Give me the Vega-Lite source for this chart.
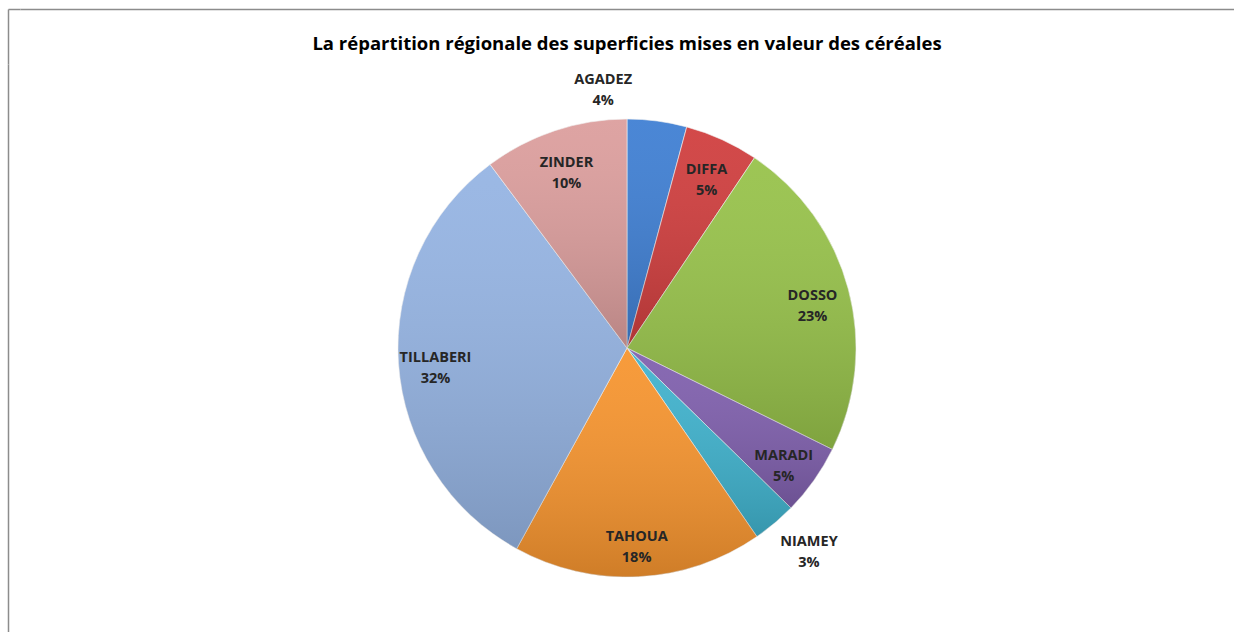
{
  "$schema": "https://vega.github.io/schema/vega-lite/v6.json",
  "autosize": "none",
  "width": 1214,
  "height": 568,
  "padding": {"left": 20, "top": 64, "right": 0, "bottom": 0},
  "background": "white",
  "view": {"stroke": null, "fill": "white"},
  "title": {
    "text": "La répartition régionale des superficies mises en valeur des céréales",
    "font": "Open Sans",
    "fontSize": 18.5,
    "fontWeight": "bold",
    "color": "#000000",
    "anchor": "middle",
    "offset": -45,
    "frame": "group"
  },
  "data": {
    "values": [
      {"region": "AGADEZ", "share": 0.042},
      {"region": "DIFFA", "share": 0.052},
      {"region": "DOSSO", "share": 0.229},
      {"region": "MARADI", "share": 0.050},
      {"region": "NIAMEY", "share": 0.031},
      {"region": "TAHOUA", "share": 0.176},
      {"region": "TILLABERI", "share": 0.318},
      {"region": "ZINDER", "share": 0.102}
    ]
  },
  "layer": [
    {
      "mark": {"type": "point", "opacity": 0},
      "encoding": {
        "x": {
          "field": "share", "type": "quantitative",
          "scale": {"domain": [0, 1], "nice": false},
          "axis": {"orient": "top", "offset": 55, "title": null, "labels": false, "grid": false, "values": [0], "ticks": true, "tickSize": -55, "tickOffset": -12, "tickColor": "#8c8c8c", "tickWidth": 1.5, "domainColor": "#8c8c8c", "domainWidth": 1.5}
        },
        "y": {
          "field": "share", "type": "quantitative",
          "scale": {"domain": [0, 1], "nice": false},
          "axis": {"orient": "left", "offset": 12, "title": null, "labels": false, "grid": false, "values": [1], "ticks": true, "tickSize": -12, "tickOffset": -55, "tickColor": "#8c8c8c", "tickWidth": 1.5, "domainColor": "#8c8c8c", "domainWidth": 1.5}
        }
      }
    },
    {
      "encoding": {
        "theta": {"field": "share", "type": "quantitative", "stack": true},
        "order": {"field": "region", "sort": "ascending"}
      },
      "layer": [
        {
          "mark": {"type": "arc", "outerRadius": 229, "stroke": "#f2f2f2", "strokeOpacity": 0.6, "strokeWidth": 1},
          "encoding": {
            "color": {
              "field": "region",
              "type": "nominal",
              "legend": null,
              "scale": {
                "domain": ["AGADEZ", "DIFFA", "DOSSO", "MARADI", "NIAMEY", "TAHOUA", "TILLABERI", "ZINDER"],
                "range": ["#3f7fd3", "#d03e3e", "#97c24a", "#8060ae", "#40b3ce", "#f7952f", "#95b4e3", "#dc9e9d"]
              }
            }
          }
        },
        {
          "mark": {
            "type": "arc",
            "outerRadius": 229,
            "strokeWidth": 0,
            "fill": {
              "gradient": "linear",
              "x1": 0, "y1": 0, "x2": 0, "y2": 1,
              "stops": [
                {"offset": 0, "color": "rgba(255,255,255,0.06)"},
                {"offset": 1, "color": "rgba(0,0,0,0.16)"}
              ]
            }
          },
          "encoding": {}
        },
        {
          "mark": {"type": "text", "radius": 192, "dy": -3, "font": "Open Sans", "fontSize": 14.5, "fontWeight": "bold", "fill": "#262626", "baseline": "middle"},
          "encoding": {"text": {"condition": {"test": "datum.region !== 'AGADEZ' && datum.region !== 'NIAMEY'", "field": "region"}, "value": ""}}
        },
        {
          "mark": {"type": "text", "radius": 192, "dy": 18, "font": "Open Sans", "fontSize": 14.5, "fontWeight": "bold", "fill": "#262626", "baseline": "middle"},
          "encoding": {"text": {"condition": {"test": "datum.region !== 'AGADEZ' && datum.region !== 'NIAMEY'", "field": "share", "format": ".0%"}, "value": ""}}
        },
        {
          "mark": {"type": "text", "radius": 260, "dx": -58, "dy": -10, "font": "Open Sans", "fontSize": 14.5, "fontWeight": "bold", "fill": "#262626", "baseline": "middle"},
          "encoding": {"text": {"condition": {"test": "datum.region === 'AGADEZ'", "field": "region"}, "value": ""}}
        },
        {
          "mark": {"type": "text", "radius": 260, "dx": -58, "dy": 11, "font": "Open Sans", "fontSize": 14.5, "fontWeight": "bold", "fill": "#262626", "baseline": "middle"},
          "encoding": {"text": {"condition": {"test": "datum.region === 'AGADEZ'", "field": "share", "format": ".0%"}, "value": ""}}
        },
        {
          "mark": {"type": "text", "radius": 273, "dx": 6, "dy": -15, "font": "Open Sans", "fontSize": 14.5, "fontWeight": "bold", "fill": "#262626", "baseline": "middle"},
          "encoding": {"text": {"condition": {"test": "datum.region === 'NIAMEY'", "field": "region"}, "value": ""}}
        },
        {
          "mark": {"type": "text", "radius": 273, "dx": 6, "dy": 6, "font": "Open Sans", "fontSize": 14.5, "fontWeight": "bold", "fill": "#262626", "baseline": "middle"},
          "encoding": {"text": {"condition": {"test": "datum.region === 'NIAMEY'", "field": "share", "format": ".0%"}, "value": ""}}
        }
      ]
    }
  ]
}
